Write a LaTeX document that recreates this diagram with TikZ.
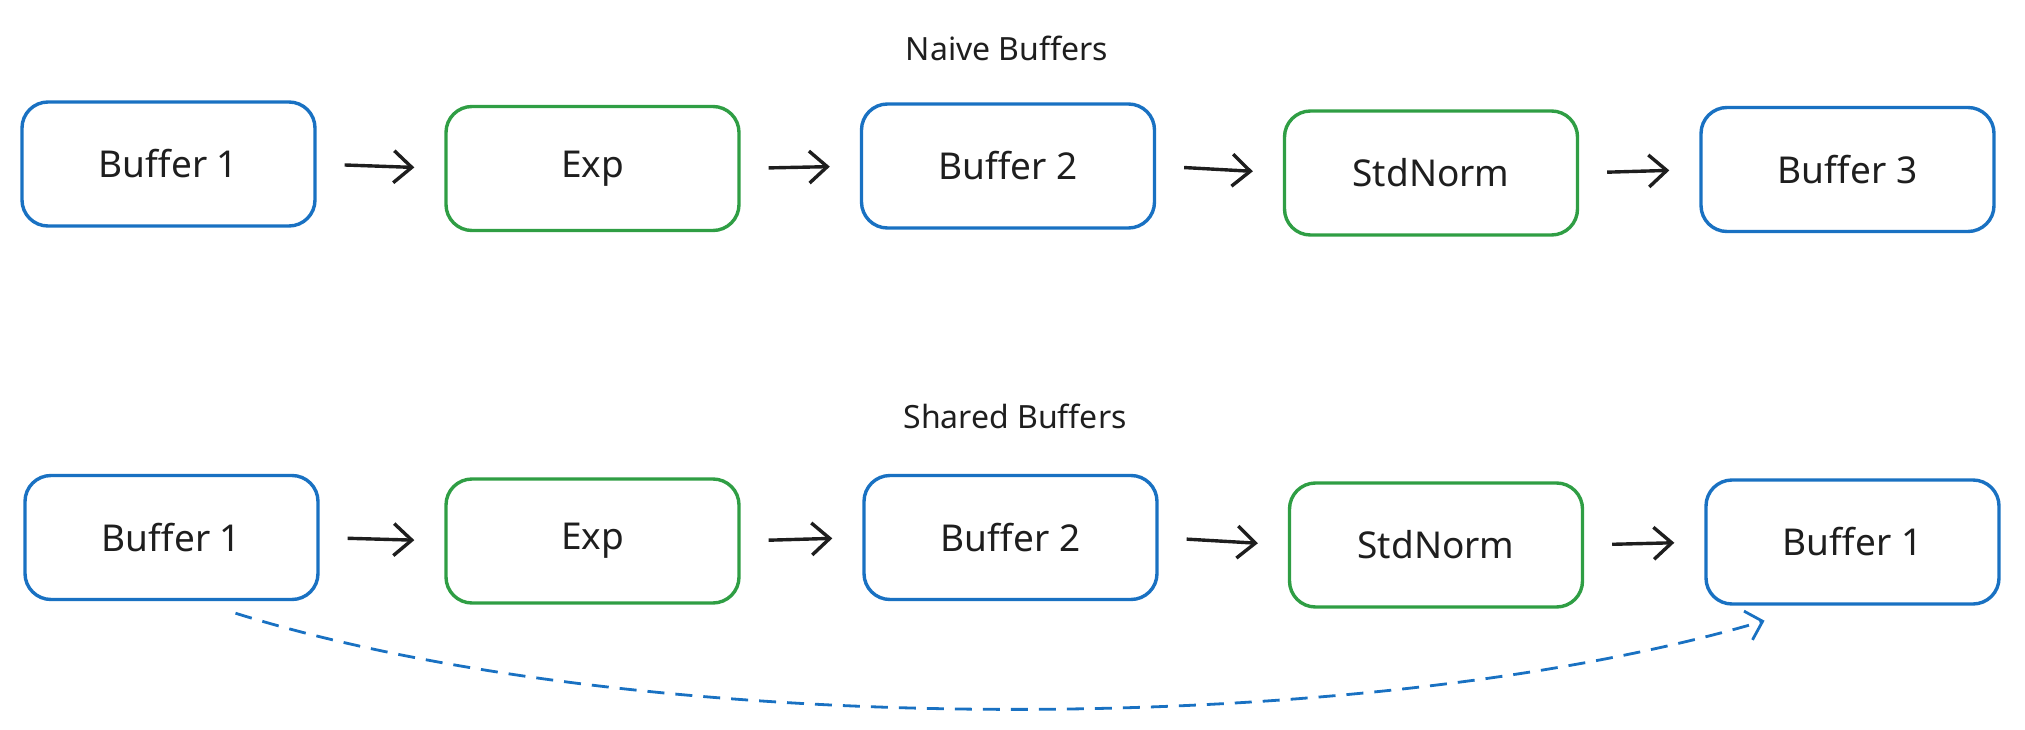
\documentclass[tikz,border=0pt]{standalone}
\usepackage{fontspec}
\setmainfont{Noto Sans}
\usetikzlibrary{arrows.meta}
\definecolor{exblue}{HTML}{1971C2}
\definecolor{exgreen}{HTML}{2F9E44}
\definecolor{exblack}{HTML}{1E1E1E}
\tikzset{
  box/.style={draw, rounded corners=26pt, line width=3.4pt, minimum width=293pt, minimum height=124pt, inner sep=0pt, font=\fontsize{37}{40}\selectfont, text=exblack},
  bufbox/.style={box, draw=exblue},
  opbox/.style={box, draw=exgreen},
  flow/.style={draw=exblack, line width=3.4pt, shorten <=28pt, shorten >=30pt, -{Straight Barb[length=18pt,width=32pt,line width=3.4pt]}},
  reuse/.style={draw=exblue, line width=2.8pt, dash pattern=on 17pt off 11pt, -{Straight Barb[length=15pt,width=30pt,line width=2.8pt]}},
  title/.style={font=\fontsize{32}{36}\selectfont, text=exblack}
}
\begin{document}
\begin{tikzpicture}[x=1pt,y=-1pt]
\useasboundingbox (0,0) rectangle (2025,730);
\node[title] (tn) at (1007,48) {Naive Buffers};
\node[bufbox] (t1) at (168.5,164) {Buffer 1};
\node[opbox] (t2) at (592.5,168.5) {Exp};
\node[bufbox] (t3) at (1008,166) {Buffer 2};
\node[opbox] (t4) at (1431,173) {StdNorm};
\node[bufbox] (t5) at (1847.5,169.5) {Buffer 3};
\draw[flow] (t1.east) -- (t2.west);
\draw[flow] (t2.east) -- (t3.west);
\draw[flow] (t3.east) -- (t4.west);
\draw[flow] (t4.east) -- (t5.west);

\node[title] (ts) at (1015,416) {Shared Buffers};
\node[bufbox] (s1) at (171.5,537.5) {Buffer 1};
\node[opbox] (s2) at (592.5,541) {Exp};
\node[bufbox] (s3) at (1010.5,537.5) {Buffer 2};
\node[opbox] (s4) at (1436,545) {StdNorm};
\node[bufbox] (s5) at (1852.5,542) {Buffer 1};
\draw[flow] (s1.east) -- (s2.west);
\draw[flow] (s2.east) -- (s3.west);
\draw[flow] (s3.east) -- (s4.west);
\draw[flow] (s4.east) -- (s5.west);

\coordinate (ra) at ([xshift=64pt,yshift=-12pt]s1.south);
\coordinate (rb) at ([xshift=-88pt,yshift=-15pt]s5.south);
\draw[reuse] (ra) .. controls (640,740) and (1360,740) .. (rb);
\end{tikzpicture}
\end{document}
